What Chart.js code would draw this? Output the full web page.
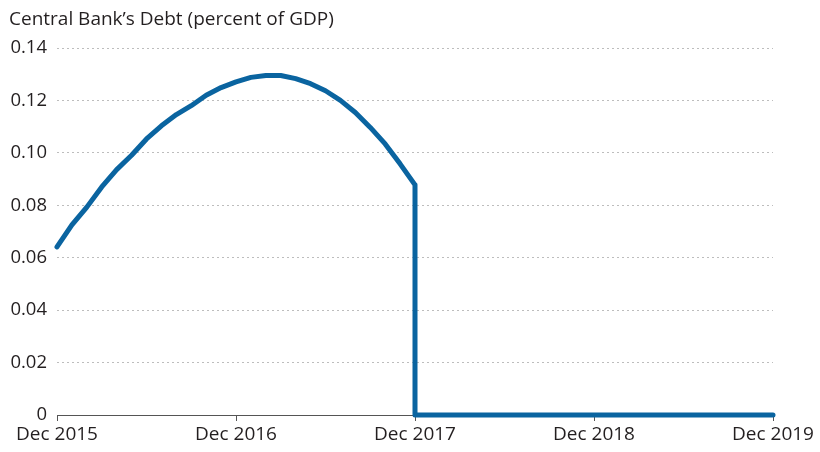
<!DOCTYPE html>
<html>
<head>
<meta charset="utf-8">
<script src="https://cdn.jsdelivr.net/npm/chart.js@4"></script>
<style>
html,body{margin:0;padding:0;background:#fff;}
#wrap{width:820px;height:452px;position:relative;}
</style>
</head>
<body>
<div id="wrap"><canvas id="c" width="820" height="452"></canvas></div>
<script>
// Months since Dec 2015
const months = [0,1,2,3,4,5,6,7,8,9,10,11,12,13,14,15,16,17,18,19,20,21,22,23,24,24,30,36,42,48];
const debt = [0.0641,0.0725,0.0793,0.0870,0.0936,0.0991,0.1053,0.1103,0.1146,0.1180,0.1220,0.1249,
              0.1271,0.1288,0.1295,0.1295,0.1283,0.1264,0.1237,0.1200,0.1154,0.1097,0.1034,0.0958,
              0.0878,0,0,0,0,0];
const tickMonths = [0,12,24,36,48];
const tickLabels = ['Dec 2015','Dec 2016','Dec 2017','Dec 2018','Dec 2019'];
const yTicks = [0,0.02,0.04,0.06,0.08,0.10,0.12,0.14];
const titleText = 'Central Bank\u2019s Debt (percent of GDP)';

const FONT = '"Open Sans", Lato, sans-serif';
const TXT = '#231f20';

const titlePlugin = {
  id:'ttl',
  afterDraw(chart){
    const ctx = chart.ctx;
    ctx.save();
    ctx.font = '19px ' + FONT;
    ctx.fillStyle = TXT;
    ctx.textBaseline = 'middle';
    ctx.textAlign = 'left';
    ctx.fillText(titleText, 9, 20);
    ctx.restore();
  }
};

new Chart(document.getElementById('c'), {
  type:'line',
  data:{
    datasets:[{
      data: months.map((m,i)=>({x:m,y:debt[i]})),
      borderColor:'#0a64a0',
      borderWidth:5,
      pointRadius:0,
      tension:0,
      fill:false,
      clip:false,
      borderCapStyle:'round',
      borderJoinStyle:'round'
    }]
  },
  options:{
    responsive:false,
    animation:false,
    devicePixelRatio:1,
    layout:{padding:{left:8,right:47,top:48,bottom:0}},
    plugins:{legend:{display:false},tooltip:{enabled:false},title:{display:false}},
    scales:{
      x:{
        type:'linear',
        min:0,max:48,
        afterBuildTicks(s){ s.ticks = tickMonths.map(v=>({value:v})); },
        afterFit(s){ s.height = 37; },
        ticks:{
          callback:(v)=>tickLabels[tickMonths.indexOf(v)],
          color:TXT,
          font:{family:FONT,size:19},
          padding:2,
          maxRotation:0,
          autoSkip:false
        },
        grid:{drawOnChartArea:false,drawTicks:true,tickLength:6,color:'#555',lineWidth:1},
        border:{display:true,color:'#555',width:1}
      },
      y:{
        min:0,max:0.14,
        afterBuildTicks(s){ s.ticks = yTicks.map(v=>({value:v})); },
        afterFit(s){ s.width = 49; },
        ticks:{
          callback:(v)=> v===0 ? '0' : v.toFixed(2),
          color:TXT,
          font:{family:FONT,size:18.5},
          padding:10
        },
        grid:{color:'#bdbdbd',lineWidth:1,drawTicks:false},
        border:{display:false,dash:[2,3]}
      }
    }
  },
  plugins:[titlePlugin]
});
</script>
</body>
</html>
